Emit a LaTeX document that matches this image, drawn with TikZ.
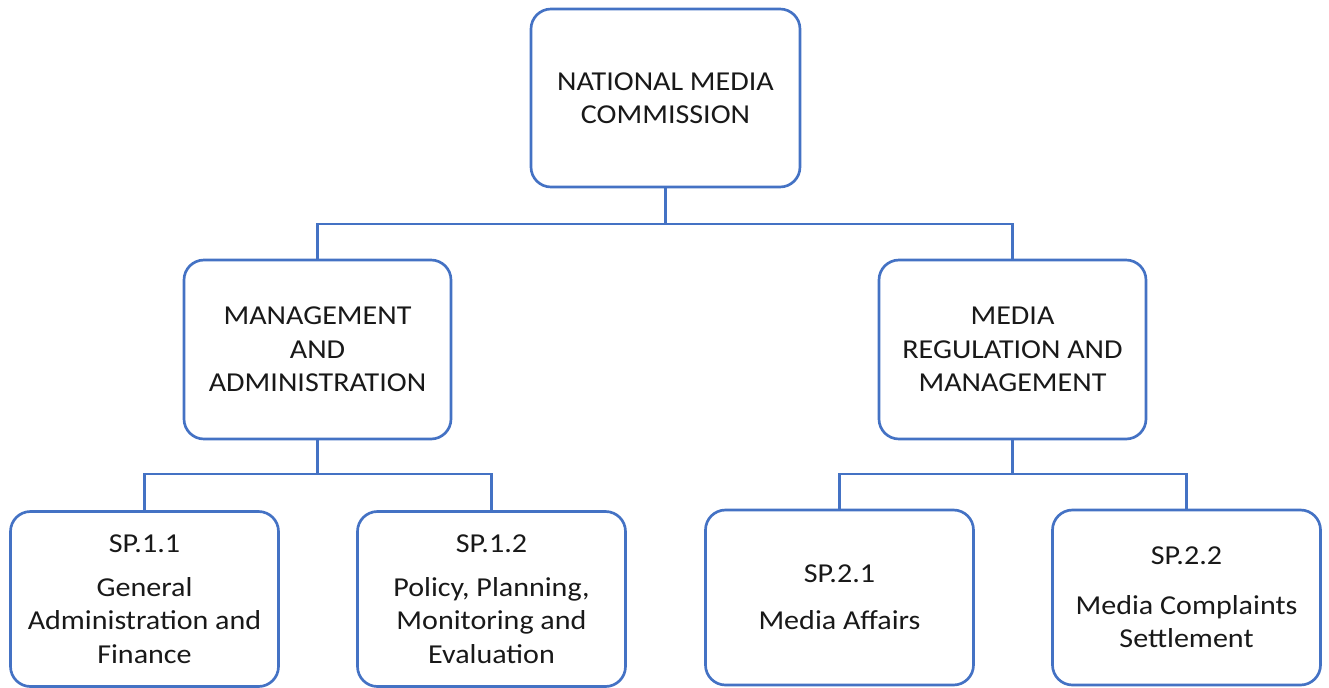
\documentclass[tikz,border=0pt]{standalone}
\usepackage{fontspec}
\setmainfont{Carlito}[FakeStretch=1.1]
\definecolor{boxblue}{HTML}{4472C4}
\tikzset{
    unit/.style={draw=boxblue, line width=2pt, rounded corners=15pt, fill=white,
        align=center, inner sep=0pt, text=black!90,
        font=\fontsize{20.5}{25}\selectfont},
    topbox/.style={unit, minimum width=201.75pt, minimum height=133.5pt},
    midbox/.style={unit, minimum width=200.25pt, minimum height=134.25pt},
    subbox/.style={unit, minimum width=201pt, minimum height=131.25pt},
    link/.style={draw=boxblue, line width=2pt}
}

\begin{document}
\begin{tikzpicture}[x=0.75pt,y=-0.75pt]
    \useasboundingbox (0,0) rectangle (1329,687);
    % top level
    \node[topbox] (nmc) at (665.5,98) {NATIONAL MEDIA\\COMMISSION};
    % programmes
    \node[midbox] (ma) at (317.5,349.5) {MANAGEMENT\\AND\\ADMINISTRATION};
    \node[midbox] (mrm) at (1012.5,349.5) {MEDIA\\REGULATION AND\\MANAGEMENT};
    % sub-programmes
    \node[subbox] (sp11) at (144.5,599) {SP.1.1\\[8pt]General\\Administration and\\Finance};
    \node[subbox] (sp12) at (491.5,599) {SP.1.2\\[8pt]Policy, Planning,\\Monitoring and\\Evaluation};
    \node[subbox] (sp21) at (839.5,597.5) {SP.2.1\\[10pt]Media Affairs};
    \node[subbox] (sp22) at (1186.5,597.5) {SP.2.2\\[12pt]Media Complaints\\Settlement};
    % connectors
    \coordinate (bus0) at (665.5,224);
    \coordinate (bus1) at (317.5,474);
    \coordinate (bus2) at (1012.5,474);
    \draw[link] (nmc.south) -- (bus0) -| (ma.north);
    \draw[link] (bus0) -| (mrm.north);
    \draw[link] (ma.south) -- (bus1) -| (sp11.north);
    \draw[link] (bus1) -| (sp12.north);
    \draw[link] (mrm.south) -- (bus2) -| (sp21.north);
    \draw[link] (bus2) -| (sp22.north);
\end{tikzpicture}
\end{document}
